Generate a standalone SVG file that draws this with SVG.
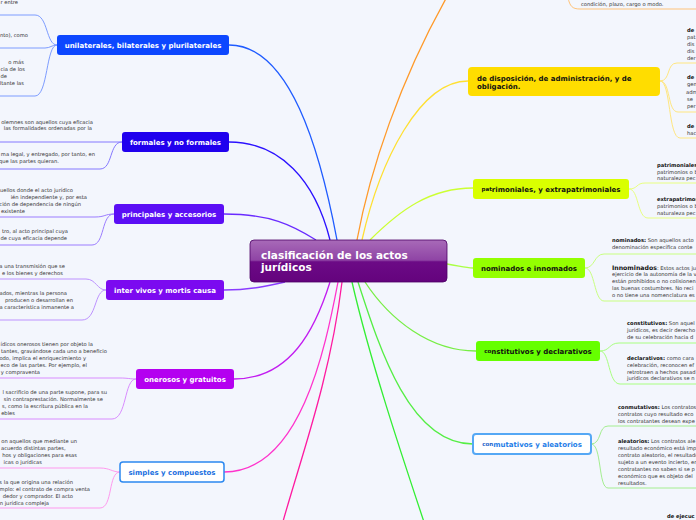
<svg xmlns="http://www.w3.org/2000/svg" width="696" height="520" viewBox="0 0 696 520">
<defs>
<linearGradient id="cg" x1="0" y1="0" x2="0" y2="1">
<stop offset="0" stop-color="#a86ab8"/>
<stop offset="0.48" stop-color="#8f44a5"/>
<stop offset="0.52" stop-color="#6c0a86"/>
<stop offset="1" stop-color="#64037d"/>
</linearGradient>
<style>
.t{font-family:"DejaVu Sans",Verdana,sans-serif;font-size:5.2px;fill:#333}
.e{text-anchor:end}
.b{font-weight:bold;fill:#111}
.n{font-family:"DejaVu Sans",Verdana,sans-serif;font-size:7px;font-weight:bold;text-anchor:middle}
.c{fill:none;stroke-width:1.3}
.s{fill:none;stroke-width:1}
</style>
</defs>
<rect width="696" height="520" fill="#f3f6fd"/>
<g id="connectors">
<path class="c" stroke="#1f5bff" d="M229,45 C290,45 320,150 337,240"/>
<path class="c" stroke="#2a10ff" d="M229,142 C280,142 315,180 330,240"/>
<path class="c" stroke="#6a2bff" d="M224,214 C270,214 292,225 316,240"/>
<path class="c" stroke="#8a3cff" d="M224,290 C250,290 268,286 285,282"/>
<path class="c" stroke="#c21cf0" d="M234,379 C290,379 315,330 330,282"/>
<path class="c" stroke="#ff33cc" d="M224,472 C300,472 325,350 338,282"/>
<path class="c" stroke="#ff1aa0" d="M342,282 C330,380 300,460 282,525"/>
<path class="c" stroke="#ff9a2a" d="M357,240 C370,170 400,80 448,-5"/>
<path class="c" stroke="#ffe033" d="M362,240 C380,160 420,81 468,81"/>
<path class="c" stroke="#ccff33" d="M370,240 C400,210 430,188 473,188"/>
<path class="c" stroke="#aaff44" d="M447,264 C460,266 465,268 473,268"/>
<path class="c" stroke="#77ee44" d="M365,282 C390,320 430,351 476,351"/>
<path class="c" stroke="#55ee44" d="M358,282 C380,350 410,444 473,444"/>
<path class="c" stroke="#33ee33" d="M352,282 C370,360 400,450 425,525"/>
<g stroke="#7d9cff"><path class="s" d="M0,15 H35 C48,15 46,45 57,45"/><path class="s" d="M0,48 H45 C50,48 52,45 57,45"/><path class="s" d="M0,96 H35 C48,96 46,45 57,45"/></g>
<g stroke="#8478ff"><path class="s" d="M0,142 H122"/><path class="s" d="M0,169 H100 C113,169 109,142 122,142"/></g>
<g stroke="#9b7dff"><path class="s" d="M0,217 H95 C105,217 105,214 114,214"/><path class="s" d="M0,245 H92 C105,245 101,214 114,214"/></g>
<g stroke="#bd92ff"><path class="s" d="M0,279 H86 C96,279 97,290 106,290"/><path class="s" d="M0,320 H82 C97,320 94,290 106,290"/></g>
<g stroke="#d98cff"><path class="s" d="M0,378 H120 C128,378 130,379 136,379"/><path class="s" d="M0,419 H112 C127,419 124,379 136,379"/></g>
<g stroke="#ff99ee"><path class="s" d="M0,468 H100 C110,468 112,472 120,472"/><path class="s" d="M0,508 H100 C113,508 108,472 120,472"/></g>
<path class="s" stroke="#ffc37a" d="M568,-2 C570,6 572,9 580,9 H696"/>
<g stroke="#ffe680"><path class="s" d="M660,81 C671,81 666,63 677,63 H696"/><path class="s" d="M660,81 C671,81 667,112 678,112 H696"/><path class="s" d="M660,81 C671,81 668,138 680,138 H696"/></g>
<g stroke="#e8ff80"><path class="s" d="M629,189 C638,189 636,183 645,183 H696"/><path class="s" d="M629,189 C639,189 637,218 648,218 H696"/></g>
<g stroke="#c8ff80"><path class="s" d="M585,268 C595,268 594,254 604,254 H696"/><path class="s" d="M585,268 C595,268 594,301 604,301 H696"/></g>
<g stroke="#a8ff80"><path class="s" d="M600,351 C610,351 609,343 619,343 H696"/><path class="s" d="M600,351 C610,351 608,384 620,384 H696"/></g>
<g stroke="#a4ee90"><path class="s" d="M591,444 C602,444 598,426 608,426 H696"/><path class="s" d="M591,444 C602,444 598,488 608,488 H696"/></g>
</g>
<g id="central">
<rect x="250" y="240" width="197" height="42" rx="4" fill="url(#cg)" stroke="#4d0065" stroke-width="0.8"/>
<text font-family="DejaVu Sans,Verdana,sans-serif" font-size="10.5" font-weight="bold" fill="#fff"><tspan x="261" y="259">clasificación de los actos</tspan><tspan x="261" y="271">jurídicos</tspan></text>
</g>
<g id="unilaterales">
<rect x="57" y="35" width="172" height="20" rx="3" fill="#0d47ff"/>
<text class="n" x="143" y="47.5" fill="#fff">unilaterales, bilaterales y plurilaterales</text>
<text class="t e" x="18" y="4">r entre</text>
<text class="t e" x="28" y="37">nto), como</text>
<text class="t e" x="24" y="64">o más</text>
<text class="t e" x="25" y="71">cia de los</text>
<text class="t e" x="7" y="78">de</text>
<text class="t e" x="24" y="85">ltante las</text>
</g>
<g id="formales">
<rect x="122" y="132" width="107" height="20" rx="3" fill="#2000ee"/>
<text class="n" x="175.5" y="144.5" fill="#fff">formales y no formales</text>
<text class="t e" x="93" y="124">olemnes son aquellos cuya eficacia</text>
<text class="t e" x="92" y="130">las formalidades ordenadas por la</text>
<text class="t e" x="95" y="156">ma legal, y entregado, por tanto, en</text>
<text class="t e" x="59" y="163">que las partes quieran.</text>
</g>
<g id="principales">
<rect x="114" y="204" width="110" height="20" rx="3" fill="#5b0ef5"/>
<text class="n" x="169" y="216.5" fill="#fff">principales y accesorios</text>
<text class="t e" x="73" y="192">uellos donde el acto jurídico</text>
<text class="t e" x="87" y="199">ién independiente y, por esta</text>
<text class="t e" x="81" y="206">ción de dependencia de ningún</text>
<text class="t e" x="25" y="213">existente</text>
<text class="t e" x="68" y="233">tro, al acto principal cuya</text>
<text class="t e" x="67" y="240">de cuya eficacia depende</text>
</g>
<g id="intervivos">
<rect x="106" y="280" width="118" height="20" rx="3" fill="#7b0af0"/>
<text class="n" x="165" y="292.5" fill="#fff">inter vivos y mortis causa</text>
<text class="t e" x="65" y="268">a una transmisión que se</text>
<text class="t e" x="63" y="275">e los bienes y derechos</text>
<text class="t e" x="67" y="295">ados, mientras la persona</text>
<text class="t e" x="73" y="302">producen o desarrollan en</text>
<text class="t e" x="74" y="309">a característica inmanente a</text>
</g>
<g id="onerosos">
<rect x="136" y="369" width="98" height="20" rx="3" fill="#b400f0"/>
<text class="n" x="185" y="381.5" fill="#fff">onerosos y gratuitos</text>
<text class="t e" x="93" y="346">ídicos onerosos tienen por objeto la</text>
<text class="t e" x="107" y="353">tantes, gravándose cada uno a beneficio</text>
<text class="t e" x="86" y="360">odo, implica el enriquecimiento y</text>
<text class="t e" x="87" y="367">eco de las partes. Por ejemplo, el</text>
<text class="t e" x="40" y="374">y compraventa</text>
<text class="t e" x="107" y="394">l sacrificio de una parte supone, para su</text>
<text class="t e" x="103" y="401">sin contraprestación. Normalmente se</text>
<text class="t e" x="88" y="408">s, como la escritura pública en la</text>
<text class="t e" x="15" y="415">ebles</text>
</g>
<g id="simples">
<rect x="120" y="462" width="104" height="20" rx="3" fill="#fff" stroke="#2b88f0" stroke-width="1.5"/>
<text class="n" x="172" y="474.5" fill="#1b6fe0">simples y compuestos</text>
<text class="t e" x="77" y="443">on aquellos que mediante un</text>
<text class="t" x="1" y="450">acuerdo distintas partes,</text>
<text class="t e" x="77" y="457">hos y obligaciones para esas</text>
<text class="t e" x="42" y="464">icas o jurídicas</text>
<text class="t e" x="73" y="484">s la que origina una relación</text>
<text class="t e" x="90" y="491">mplo: el contrato de compra venta</text>
<text class="t e" x="73" y="498">dedor y comprador. El acto</text>
<text class="t e" x="49" y="505">n jurídica compleja</text>
</g>
<g id="offscreen-top">
<text class="t" x="581" y="5.5">condición, plazo, cargo o modo.</text>
</g>
<g id="disposicion">
<rect x="468" y="67" width="192" height="29" rx="4" fill="#ffdd00"/>
<text font-family="DejaVu Sans,Verdana,sans-serif" font-size="7" font-weight="bold" fill="#111"><tspan x="477" y="80.5">de disposición, de administración, y de</tspan><tspan x="477" y="89">obligación.</tspan></text>
<text class="t b" x="687" y="32">de</text>
<text class="t" x="687" y="39">pat</text>
<text class="t" x="687" y="46">dis</text>
<text class="t" x="687" y="53">dis</text>
<text class="t" x="687" y="60">der</text>
<text class="t b" x="687" y="79">de</text>
<text class="t" x="687" y="86">gen</text>
<text class="t" x="686" y="94">adm</text>
<text class="t" x="687" y="101">se</text>
<text class="t" x="687" y="108">per</text>
<text class="t b" x="687" y="128">de</text>
<text class="t" x="687" y="135">hac</text>
</g>
<g id="patrimoniales">
<rect x="473" y="179" width="156" height="20" rx="3" fill="#d9ff00"/>
<text class="n" x="551" y="191.5" fill="#111"><tspan font-size="5.5" dy="-1">pat</tspan><tspan dy="1">rimoniales, y extrapatrimoniales</tspan></text>
<text class="t b" x="657" y="167">patrimoniales:</text>
<text class="t" x="657" y="174">patrimonios o b</text>
<text class="t" x="657" y="180">naturaleza pec</text>
<text class="t b" x="657" y="201">extrapatrimon</text>
<text class="t" x="657" y="208">patrimonios o b</text>
<text class="t" x="657" y="215">naturaleza pec</text>
</g>
<g id="nominados">
<rect x="473" y="258" width="112" height="20" rx="3" fill="#94ff00"/>
<text class="n" x="529" y="270.5" fill="#111">nominados e innomados</text>
<text class="t" x="612" y="242"><tspan class="b">nominados:</tspan> Son aquellos acto</text>
<text class="t" x="612" y="249">denominación específica conte</text>
<text class="t" x="612" y="269.5"><tspan class="b" font-size="6.2">Innominados</tspan>: Estos actos ju</text>
<text class="t" x="612" y="276">ejercicio de la autonomía de la v</text>
<text class="t" x="612" y="283">están prohibidos o no colisionen</text>
<text class="t" x="612" y="290">las buenas costumbres. No reci</text>
<text class="t" x="612" y="297">o no tiene una nomenclatura es</text>
</g>
<g id="constitutivos">
<rect x="476" y="341" width="124" height="20" rx="3" fill="#66ff00"/>
<text class="n" x="538" y="353.5" fill="#111"><tspan font-size="5.5" dy="-1">co</tspan><tspan dy="1">nstitutivos y declarativos</tspan></text>
<text class="t" x="627" y="325"><tspan class="b">constitutivos:</tspan> Son aquel</text>
<text class="t" x="627" y="332">jurídicos, es decir derecho</text>
<text class="t" x="627" y="339">de su celebración hacia d</text>
<text class="t" x="627" y="360"><tspan class="b">declarativos:</tspan>  como cara</text>
<text class="t" x="627" y="367">celebración, reconocen ef</text>
<text class="t" x="627" y="374">retrotraen a hechos pasad</text>
<text class="t" x="627" y="380">jurídicos declarativos se n</text>
</g>
<g id="conmutativos">
<rect x="473" y="434" width="118" height="20" rx="3" fill="#fff" stroke="#55a8f5" stroke-width="2"/>
<text class="n" x="532" y="446.5" fill="#1f7ee8"><tspan font-size="5.5" dy="-1" fill="#1a5fc8">con</tspan><tspan dy="1">mutativos y aleatorios</tspan></text>
<text class="t" x="618" y="409"><tspan class="b">conmutativos:</tspan> Los contratos</text>
<text class="t" x="618" y="416">contratos cuyo resultado eco</text>
<text class="t" x="618" y="423">los contratantes desean expe</text>
<text class="t" x="618" y="443"><tspan class="b">aleatorios:</tspan> Los contratos ale</text>
<text class="t" x="618" y="450">resultado económico está imp</text>
<text class="t" x="618" y="457">contrato aleatorio, el resultado</text>
<text class="t" x="618" y="464">sujeto a un evento incierto, en</text>
<text class="t" x="618" y="471">contratantes no saben si se p</text>
<text class="t" x="618" y="478">económico que es objeto del</text>
<text class="t" x="618" y="485">resultados.</text>
</g>
<g id="offscreen-bottom">
<text class="t b" x="667" y="518">de ejecuc</text>
</g>
</svg>
